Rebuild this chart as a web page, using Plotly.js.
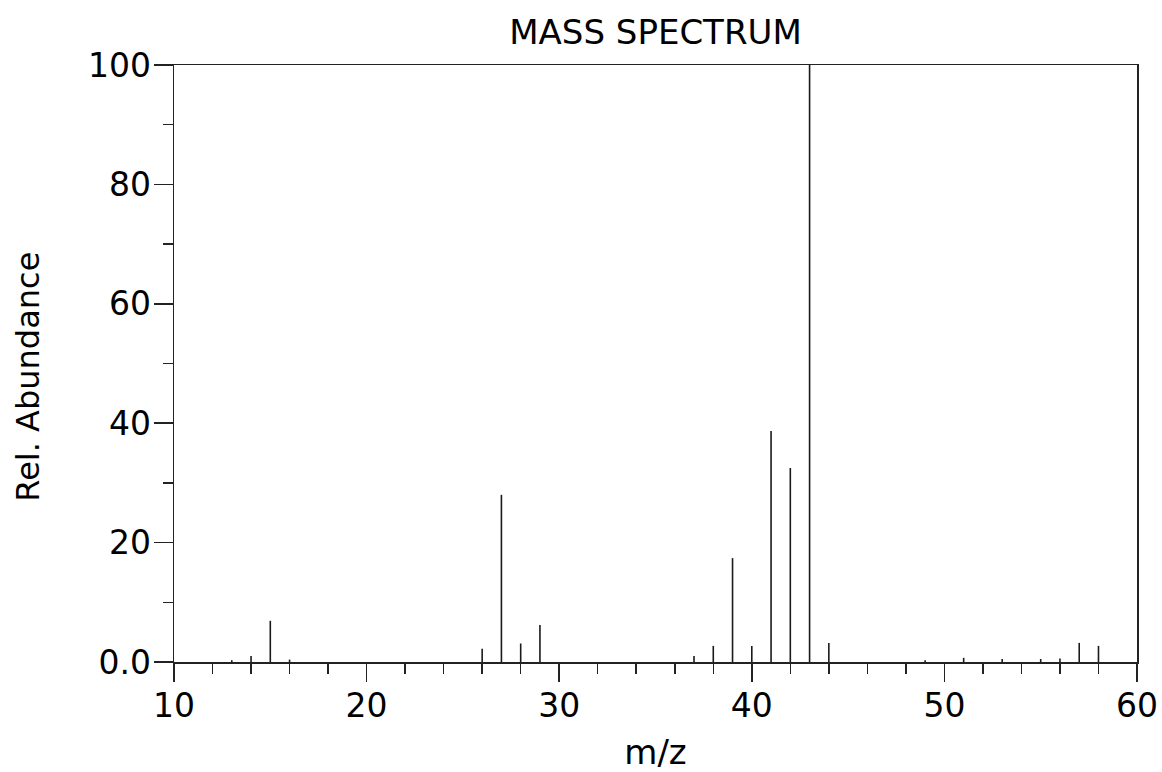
<!DOCTYPE html>
<html>
<head>
<meta charset="utf-8">
<script src="https://cdn.plot.ly/plotly-3.0.1.min.js"></script>
<style>html,body{margin:0;padding:0;background:#fff;}#chart{width:1162px;height:772px;}</style>
</head>
<body>
<div id="chart"></div>
<script>
const mz = [13, 14, 15, 16, 26, 27, 28, 29, 37, 38, 39, 40, 41, 42, 43, 44, 49, 51, 53, 55, 56, 57, 58];
const abundance = [0.3, 1.0, 6.9, 0.4, 2.2, 28.0, 3.1, 6.2, 1.0, 2.7, 17.4, 2.7, 38.7, 32.5, 100, 3.2, 0.3, 0.7, 0.5, 0.5, 0.6, 3.2, 2.7];
const yTickVals = [0, 20, 40, 60, 80, 100];
const yTickText = ["0.0", "20", "40", "60", "80", "100"];
const xTickVals = [10, 20, 30, 40, 50, 60];

const xs = [], ys = [];
mz.forEach((m, i) => { xs.push(m, m, null); ys.push(0, abundance[i], null); });

const FAM = "DejaVu Sans";
const data = [{
  x: xs, y: ys, type: "scatter", mode: "lines",
  line: {color: "#1a1a1a", width: 1.6}, hoverinfo: "skip", showlegend: false
}];
const layout = {
  width: 1162, height: 772,
  margin: {l: 174, r: 25, t: 65, b: 110},
  paper_bgcolor: "#fff", plot_bgcolor: "#fff",
  font: {family: FAM, color: "#000"},
  title: {text: "MASS SPECTRUM", font: {family: FAM, size: 34, color: "#000"}, x: 0.5, xref: "paper", xanchor: "center", y: 0.958, yanchor: "middle"},
  xaxis: {
    range: [10, 60], tickvals: xTickVals, ticks: "outside", ticklen: 18, tickwidth: 1.5, tickcolor: "#222",
    showgrid: false, zeroline: false, showline: true, linecolor: "#222", linewidth: 1.5, mirror: true,
    tickfont: {family: FAM, size: 33, color: "#000"}, ticklabelstandoff: -4,
    minor: {dtick: 2, tick0: 10, ticks: "outside", ticklen: 10, tickwidth: 1.5, tickcolor: "#222", showgrid: false},
    title: {text: "m/z", font: {family: FAM, size: 34, color: "#000"}, standoff: 20}
  },
  yaxis: {
    range: [0, 100], tickvals: yTickVals, ticktext: yTickText, ticks: "outside", ticklen: 19, tickwidth: 1.5, tickcolor: "#222",
    showgrid: false, zeroline: false, showline: true, linecolor: "#222", linewidth: 1.5, mirror: true,
    tickfont: {family: FAM, size: 33, color: "#000"}, ticklabelstandoff: -4,
    minor: {dtick: 10, tick0: 0, ticks: "outside", ticklen: 10, tickwidth: 1.5, tickcolor: "#222", showgrid: false}
  },
  annotations: [{
    text: "Rel. Abundance", xref: "paper", yref: "paper", x: -0.1516, y: 0.478,
    xanchor: "center", yanchor: "middle", textangle: -90, showarrow: false,
    font: {family: FAM, size: 32, color: "#000"}
  }]
};
Plotly.newPlot("chart", data, layout, {displayModeBar: false, staticPlot: true});
</script>
</body>
</html>
